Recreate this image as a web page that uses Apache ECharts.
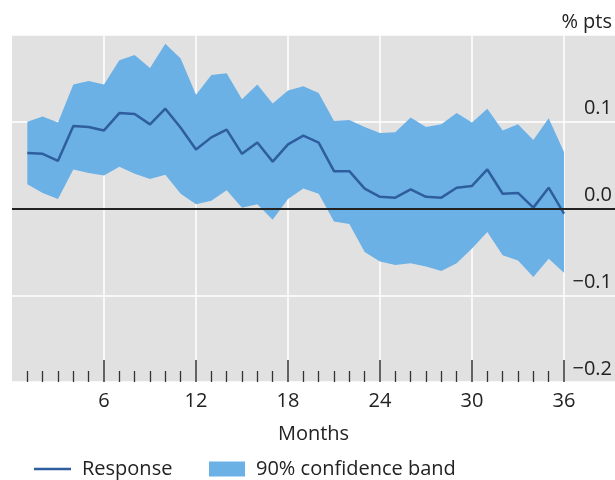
<!DOCTYPE html>
<html>
<head>
<meta charset="utf-8">
<script src="https://cdn.jsdelivr.net/npm/echarts@6/dist/echarts.min.js"></script>
<style>html,body{margin:0;padding:0;background:#fff}#c{width:615px;height:480px}</style>
</head>
<body>
<div id="c"></div>
<script>
// ---- data ----
const months = [1,2,3,4,5,6,7,8,9,10,11,12,13,14,15,16,17,18,19,20,21,22,23,24,25,26,27,28,29,30,31,32,33,34,35,36];
const response = [0.064,0.063,0.055,0.095,0.094,0.090,0.110,0.109,0.097,0.115,0.093,0.068,0.082,0.091,0.063,0.076,0.054,0.074,0.084,0.076,0.043,0.043,0.023,0.0135,0.0125,0.022,0.0135,0.0125,0.024,0.026,0.045,0.017,0.018,0.001,0.024,-0.006];
const bandUpper = [0.100,0.106,0.099,0.143,0.147,0.143,0.171,0.177,0.162,0.190,0.173,0.131,0.154,0.156,0.126,0.143,0.121,0.136,0.141,0.133,0.101,0.102,0.094,0.087,0.088,0.105,0.094,0.097,0.110,0.099,0.115,0.090,0.097,0.079,0.104,0.065];
const bandLower = [0.028,0.018,0.011,0.045,0.041,0.038,0.048,0.040,0.034,0.039,0.017,0.005,0.009,0.021,0.001,0.005,-0.013,0.011,0.023,0.017,-0.015,-0.018,-0.050,-0.061,-0.065,-0.063,-0.067,-0.072,-0.063,-0.046,-0.027,-0.054,-0.060,-0.079,-0.058,-0.074];
const xTickLabels = [6,12,18,24,30,36];
const minorTickMonths = [1,2,3,4,5,7,8,9,10,11,13,14,15,16,17,19,20,21,22,23,25,26,27,28,29,31,32,33,34,35];
const yTickLabels = ['\u22120.2','\u22120.1','0.0','0.1','% pts'];
const yTickValues = [-0.2,-0.1,0,0.1,0.2];
const xAxisTitle = 'Months';
const seriesNames = ['Response','90% confidence band'];

// ---- style ----
const FONT = '"Open Sans", "Noto Sans", sans-serif';
const GRAY = '#e1e1e1';
const BAND = '#6cb1e6';
const LINE = '#2e5e9e';
const TXT = '#222';

const chart = echarts.init(document.getElementById('c'), null, {renderer:'canvas'});
function yLabel(v){
  for (let i=0;i<yTickValues.length;i++){ if (Math.abs(v-yTickValues[i])<1e-9) return yTickLabels[i]; }
  return '';
}
function renderBand(params, api){
  if (params.dataIndex !== 0) return null;
  const pts = [];
  for (let i=0;i<months.length;i++) pts.push(api.coord([months[i], bandUpper[i]]));
  for (let i=months.length-1;i>=0;i--) pts.push(api.coord([months[i], bandLower[i]]));
  return {type:'polygon', shape:{points:pts}, style:{fill:BAND}};
}
const option = {
  animation:false,
  textStyle:{fontFamily:FONT},
  grid:[
    {left:12,right:0,top:35,bottom:98,show:true,backgroundColor:GRAY,borderWidth:0},
    {left:12,right:51,top:35,bottom:98}
  ],
  xAxis:[
    {gridIndex:0,type:'value',min:0,max:1,position:'bottom',
     axisLine:{show:false,onZero:false},axisTick:{show:false},axisLabel:{show:false},splitLine:{show:false},
     name:xAxisTitle,nameLocation:'middle',nameGap:42,
     nameTextStyle:{fontSize:20,color:TXT,fontFamily:FONT}},
    {gridIndex:1,type:'value',min:0,max:36,interval:6,position:'bottom',
     axisLine:{show:false,onZero:false},
     axisTick:{show:true,inside:true,length:22,customValues:xTickLabels,lineStyle:{color:'#333',width:1.5}},
     axisLabel:{fontSize:20,color:TXT,margin:9,fontFamily:FONT,formatter:v=>(v===0?'':String(v))},
     splitLine:{show:true,lineStyle:{color:'#fff',width:1.5}}},
    {gridIndex:1,type:'value',min:0,max:36,interval:6,position:'bottom',
     axisLine:{show:false,onZero:false},
     axisTick:{show:true,inside:true,length:11,customValues:minorTickMonths,lineStyle:{color:'#333',width:1.3}},
     axisLabel:{show:false},splitLine:{show:false}}
  ],
  yAxis:[
    {gridIndex:0,type:'value',min:-0.2,max:0.2,interval:0.1,position:'right',
     axisLine:{show:false},axisTick:{show:false},
     axisLabel:{inside:true,margin:3,fontSize:20,color:TXT,fontFamily:FONT,verticalAlign:'bottom',padding:[0,0,3,0],formatter:yLabel},
     splitLine:{show:true,lineStyle:{color:'#fff',width:1.5}}},
    {gridIndex:1,type:'value',min:-0.2,max:0.2,show:false,splitLine:{show:false}}
  ],
  legend:[
    {data:[{name:seriesNames[0],icon:'rect'}],
     left:34,bottom:1,padding:0,itemWidth:37,itemHeight:2.5,selectedMode:false,
     textStyle:{fontSize:20,color:TXT,fontFamily:FONT,padding:[0,0,0,6]}},
    {data:[{name:seriesNames[1],icon:'rect'}],
     left:209,bottom:1,padding:0,itemWidth:36,itemHeight:15,selectedMode:false,
     textStyle:{fontSize:20,color:TXT,fontFamily:FONT,padding:[0,0,0,6]}}
  ],
  series:[
    {name:'zero',type:'line',xAxisIndex:0,yAxisIndex:0,data:[],silent:true,z:3,
     markLine:{silent:true,symbol:'none',label:{show:false},animation:false,
       lineStyle:{color:'#222',width:1.8,type:'solid'},data:[{yAxis:0}]}},
    {name:seriesNames[1],type:'custom',xAxisIndex:1,yAxisIndex:1,
     data:months.map((m,i)=>[m,bandLower[i],bandUpper[i]]),
     encode:{x:0,y:[1,2]},renderItem:renderBand,itemStyle:{color:BAND},z:2,silent:true},
    {name:seriesNames[0],type:'line',xAxisIndex:1,yAxisIndex:1,
     data:months.map((m,i)=>[m,response[i]]),symbol:'none',
     lineStyle:{color:LINE,width:2.5},itemStyle:{color:LINE},z:4}
  ]
};
chart.setOption(option);
</script>
</body>
</html>
